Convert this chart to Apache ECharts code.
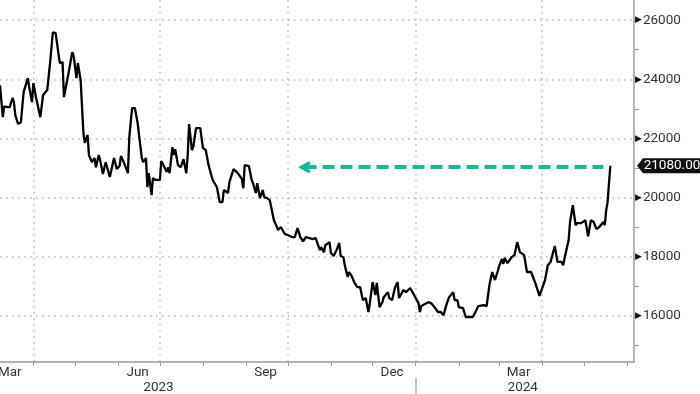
<!DOCTYPE html>
<html><head><meta charset="utf-8">
<script src="https://cdn.jsdelivr.net/npm/echarts@6/dist/echarts.min.js"></script>
<style>html,body{margin:0;padding:0;background:#fff}#c{width:700px;height:394px}</style>
</head><body><div id="c"></div><script>
const dates = [
'2023-03-08','2023-03-10','2023-03-11','2023-03-13','2023-03-15','2023-03-17','2023-03-18','2023-03-19','2023-03-21','2023-03-23','2023-03-25','2023-03-28','2023-03-29','2023-03-31',
'2023-04-01','2023-04-03','2023-04-06','2023-04-08','2023-04-11','2023-04-13','2023-04-15','2023-04-17','2023-04-20','2023-04-22','2023-04-23','2023-04-26','2023-04-29','2023-04-30',
'2023-05-02','2023-05-03','2023-05-05','2023-05-07','2023-05-08','2023-05-10','2023-05-11','2023-05-13','2023-05-15','2023-05-16','2023-05-18','2023-05-19','2023-05-21','2023-05-23','2023-05-24','2023-05-26','2023-05-29','2023-05-31',
'2023-06-02','2023-06-03','2023-06-05','2023-06-08','2023-06-09','2023-06-11','2023-06-13','2023-06-15','2023-06-18','2023-06-19','2023-06-21','2023-06-22','2023-06-23','2023-06-25','2023-06-26','2023-06-28',
'2023-07-01','2023-07-02','2023-07-03','2023-07-06','2023-07-07','2023-07-08','2023-07-10','2023-07-11','2023-07-12','2023-07-14','2023-07-16','2023-07-18','2023-07-20','2023-07-21','2023-07-22','2023-07-24','2023-07-25','2023-07-27','2023-07-30',
'2023-08-01','2023-08-03','2023-08-05','2023-08-07','2023-08-08','2023-08-11','2023-08-13','2023-08-15','2023-08-16','2023-08-19','2023-08-20','2023-08-23','2023-08-26','2023-08-29','2023-08-30','2023-08-31',
'2023-09-03','2023-09-05','2023-09-06','2023-09-08','2023-09-09','2023-09-11','2023-09-13','2023-09-14','2023-09-16','2023-09-18','2023-09-21','2023-09-22','2023-09-24','2023-09-26','2023-09-28','2023-09-29',
'2023-10-01','2023-10-04','2023-10-06','2023-10-08','2023-10-10','2023-10-12','2023-10-14','2023-10-16','2023-10-19','2023-10-21','2023-10-24','2023-10-25','2023-10-27','2023-10-28','2023-10-31',
'2023-11-01','2023-11-03','2023-11-05','2023-11-07','2023-11-08','2023-11-10','2023-11-11','2023-11-13','2023-11-14','2023-11-16','2023-11-18','2023-11-20','2023-11-22','2023-11-24','2023-11-26','2023-11-28','2023-11-29',
'2023-12-01','2023-12-03','2023-12-04','2023-12-06','2023-12-08','2023-12-09','2023-12-12','2023-12-13','2023-12-15','2023-12-17','2023-12-19','2023-12-20','2023-12-22','2023-12-23','2023-12-25','2023-12-28','2023-12-30',
'2024-01-01','2024-01-03','2024-01-04','2024-01-05','2024-01-06','2024-01-10','2024-01-12','2024-01-15','2024-01-17','2024-01-19','2024-01-21','2024-01-23','2024-01-25','2024-01-28','2024-01-29','2024-01-31',
'2024-02-01','2024-02-04','2024-02-06','2024-02-08','2024-02-09','2024-02-11','2024-02-13','2024-02-15','2024-02-16','2024-02-19','2024-02-21','2024-02-23','2024-02-25','2024-02-27','2024-02-29',
'2024-03-01','2024-03-03','2024-03-04','2024-03-05','2024-03-07','2024-03-08','2024-03-10','2024-03-12','2024-03-14','2024-03-16','2024-03-19','2024-03-21','2024-03-24','2024-03-27','2024-03-30','2024-03-31',
'2024-04-03','2024-04-05','2024-04-07','2024-04-10','2024-04-12','2024-04-15','2024-04-16','2024-04-18','2024-04-20','2024-04-21','2024-04-23','2024-04-25','2024-04-26','2024-04-29',
'2024-05-02','2024-05-04','2024-05-06','2024-05-08','2024-05-10','2024-05-12','2024-05-13','2024-05-15','2024-05-16','2024-05-17','2024-05-18','2024-05-19','2024-05-20'
];
const values = [
23800,22720,23090,23060,23060,23370,23230,22790,22490,22550,23570,24040,23740,23230,
23870,23370,22720,23470,23640,24550,25590,25560,24550,24580,23400,24140,24920,24780,
24040,24550,23970,22180,21850,22120,21440,21200,21340,21030,21440,21270,20800,21200,21170,20700,21340,20970,
21070,21410,21200,20830,22050,23030,23030,22520,21340,21200,21340,20360,20830,20090,20660,20600,
20600,21240,21200,20870,21030,20830,21710,21440,21640,21100,21030,21300,20830,21440,22490,21610,21710,22350,22350,
21680,21610,21100,20760,20600,20360,19850,19850,20260,20160,20530,20970,20830,20630,20320,21100,
21070,20600,20490,20160,20490,19990,20260,20020,19990,19920,19240,19140,18910,19010,18840,18770,
18740,18670,18670,18970,18670,18530,18670,18640,18600,18640,18230,18330,18160,18400,18500,
18130,18030,18230,18470,18030,17990,17720,17320,17490,17350,17120,16980,16980,16540,16610,16140,16440,
17150,16710,17120,16300,16470,16640,16810,16610,16540,16950,17150,16610,16780,16880,16810,16950,16780,
16610,16440,16140,16340,16370,16470,16440,16270,16140,16140,16030,16370,16640,16810,16540,16540,
16300,16270,15970,15970,16030,15970,16140,16340,16300,16370,16340,17050,17490,17220,17520,
17690,17930,17760,17960,17790,17790,17990,18060,18500,18160,18060,17490,17490,17120,16680,16710,
17220,17720,17830,18370,17830,17830,17720,18160,18570,19180,19750,19070,19140,19140,
19240,18700,19240,19180,18940,19010,18970,19180,19070,19580,19850,20490,21080
];
const yMajorTicks = [16000, 18000, 20000, 22000, 24000, 26000];
const yMinorTicks = [15000, 17000, 19000, 21000, 23000, 25000];
const quarterStarts = ['2023-04-01','2023-07-01','2023-10-01','2024-01-01','2024-04-01'];
const monthStarts = ['2023-04-01','2023-05-01','2023-06-01','2023-07-01','2023-08-01','2023-09-01','2023-10-01','2023-11-01','2023-12-01','2024-01-01','2024-02-01','2024-03-01','2024-04-01','2024-05-01','2024-06-01'];
const monthLabelDates = ['2023-03-15','2023-06-15','2023-09-15','2023-12-15','2024-03-15'];
const monthLabels = ['Mar','Jun','Sep','Dec','Mar'];
const yearLabelDates = ['2023-06-30','2024-03-18'];
const yearLabels = ['2023','2024'];
const yearBreak = ['2024-01-01'];
const lastValue = 21080;
const arrowLevel = 21030;
const arrowFrom = '2023-10-13';
const arrowTo = '2024-05-15';
const xMin = '2023-03-08', xMax = '2024-06-06';
const yMin = 14450, yMax = 26680;

function ts(s){ const p = s.split('-').map(Number); return Date.UTC(p[0], p[1]-1, p[2]); }
function nearestLabel(val, ds, labels){
  let bi = 0, bd = Infinity;
  ds.forEach((d,i)=>{ const dd = Math.abs(ts(d)-val); if (dd < bd){ bd = dd; bi = i; } });
  return labels[bi];
}
const F = "Roboto, 'Liberation Sans', sans-serif";
const FS = 13.5;
const txt = '#333';
const axisGrey = '#9c9c9c';
const gridStyle = {color:'#b8b8b8', width:1.5, type:[1.5,4.5]};
const chevron = 'path://M6,0L12,10L9.5,12L6,6L2.5,12L0,10Z';
const tagPath = 'path://M0,7.5L6,0L66,0L66,15L6,15Z';

const chart = echarts.init(document.getElementById('c'), null, {renderer:'canvas'});
chart.setOption({
  animation: false,
  backgroundColor: '#fff',
  grid: {left: 0, right: 66, top: 0, bottom: 32, containLabel:false, outerBoundsMode:'none'},
  xAxis: [
    {type:'value', min: ts(xMin), max: ts(xMax), position:'bottom', scale:true,
     axisLine:{show:true, onZero:false, lineStyle:{color:axisGrey, width:1.5}},
     axisTick:{show:true, customValues: quarterStarts.map(ts), length:4, lineStyle:{color:axisGrey}},
     splitLine:{show:true, lineStyle:gridStyle},
     axisLabel:{customValues: monthLabelDates.map(ts), formatter: v => nearestLabel(v, monthLabelDates, monthLabels),
       color:txt, fontSize:FS, fontFamily:F, margin:4}},
    {type:'value', min: ts(xMin), max: ts(xMax), position:'bottom', scale:true,
     axisLine:{show:false, onZero:false},
     axisTick:{show:true, customValues: monthStarts.map(ts), length:4, lineStyle:{color:axisGrey}},
     axisLabel:{show:false}, splitLine:{show:false}},
    {type:'value', min: ts(xMin), max: ts(xMax), position:'bottom', offset:16, scale:true,
     axisLine:{show:false, onZero:false},
     axisTick:{show:true, customValues: yearBreak.map(ts), length:16, lineStyle:{color:'#b0b0b0', width:1.5}},
     axisLabel:{customValues: yearLabelDates.map(ts), formatter: v => nearestLabel(v, yearLabelDates, yearLabels),
       color:txt, fontSize:FS, fontFamily:F, margin:3},
     splitLine:{show:false}}
  ],
  yAxis: [
    {type:'value', position:'right', min:yMin, max:yMax,
     axisLine:{show:true, onZero:false, lineStyle:{color:axisGrey, width:1.5}},
     axisTick:{show:false, customValues: yMajorTicks},
     splitLine:{show:true, lineStyle:gridStyle},
     axisLabel:{customValues: yMajorTicks, margin:1,
       formatter: v => '{t|\u25B6}{v|' + v + '}',
       rich:{
         t:{fontSize:9, color:'#111', fontFamily:'DejaVu Sans', verticalAlign:'middle', padding:[0,1,0,0]},
         v:{fontSize:FS, color:txt, fontFamily:F, verticalAlign:'middle'}
       }}},
    {type:'value', position:'right', min:yMin, max:yMax,
     axisLine:{show:false, onZero:false},
     axisTick:{show:true, customValues: yMinorTicks, length:5, lineStyle:{color:axisGrey}},
     axisLabel:{show:false}, splitLine:{show:false}}
  ],
  series: [{
    type:'line', xAxisIndex:0, yAxisIndex:0,
    data: dates.map((d,i)=>[ts(d), values[i]]),
    showSymbol:false, symbol:'none', silent:true,
    lineStyle:{color:'#000', width:2.3},
    markLine:{
      silent:true, animation:false,
      symbol:[chevron, 'none'], symbolSize:[12,13],
      label:{show:false},
      lineStyle:{color:'#14b89a', width:4, type:[12,6]},
      data:[[{coord:[ts(arrowFrom), arrowLevel]}, {coord:[ts(arrowTo), arrowLevel]}]]
    },
    markPoint:{
      silent:true, animation:false,
      data:[{coord:[ts(xMax), lastValue], symbol: tagPath, symbolSize:[66,15], symbolOffset:[36,0],
        itemStyle:{color:'#111'},
        label:{show:true, position:'inside', formatter: lastValue.toFixed(2), color:'#fff', fontSize:FS, fontFamily:F, offset:[2,0]}}]
    }
  }]
});
</script></body></html>
